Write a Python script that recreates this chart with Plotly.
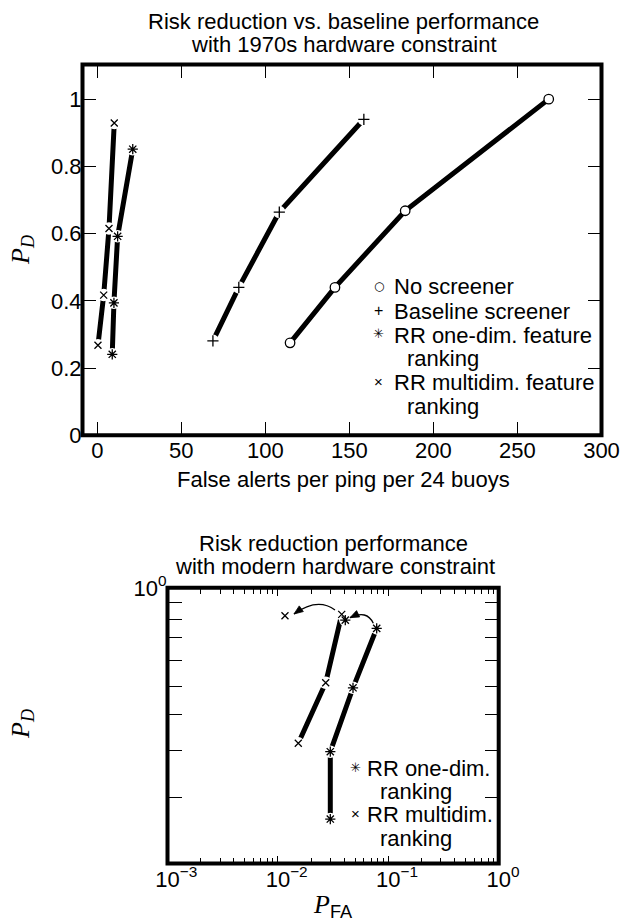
import math
import plotly.graph_objects as go

W, H = 623, 923

# ---------------- data: top chart (1970s hardware constraint) ----------------
no_screener_x = [114.7, 141.4, 183.2, 268.6]
no_screener_y = [0.275, 0.44, 0.668, 1.0]
baseline_x = [68.8, 84.2, 108.3, 158.6]
baseline_y = [0.281, 0.44, 0.664, 0.94]
rr_one_x = [8.9, 9.9, 12.1, 21.1]
rr_one_y = [0.241, 0.394, 0.592, 0.851]
rr_multi_x = [0.4, 3.8, 6.96, 10.1]
rr_multi_y = [0.268, 0.417, 0.615, 0.929]

top_xticks = [0, 50, 100, 150, 200, 250, 300]
top_yticks = [0, 0.2, 0.4, 0.6, 0.8, 1]
top_yticklabels = ["0", "0.2", "0.4", "0.6", "0.8", "1"]

# ---------------- data: bottom chart (modern hardware constraint) ------------
multi_pfa = [0.0153, 0.0271, 0.03784]
multi_pd = [0.3144, 0.4933, 0.8205]
multi_new_pfa = [0.01159]
multi_new_pd = [0.812]
one_pfa = [0.02983, 0.02983, 0.0479, 0.0785]
one_pd = [0.179, 0.2954, 0.4753, 0.7394]
one_new_pfa = [0.04078]
one_new_pd = [0.7865]

bot_xticks = [0.001, 0.01, 0.1, 1]
bot_xexps = ["−3", "−2", "−1", "0"]
bot_xminor = [k * 10.0 ** e for e in (-3, -2, -1) for k in range(2, 10)]
bot_yminor = [0.897, 0.79, 0.69, 0.582, 0.481, 0.389, 0.299, 0.21]

FONT = "Liberation Sans"
STAR = "\u2733\ufe0e"


def xf(px):
    return px / W


def yf(py):
    return 1 - py / H


fig = go.Figure()

line_traces = []
halo_traces = []
marker_traces = []

series = [
    # x, y, xaxis, yaxis, symbol, size, has_line, halo
    (no_screener_x, no_screener_y, "x", "y", "circle", 9.5, True, False),
    (baseline_x, baseline_y, "x", "y", "cross-thin-open", 8, True, True),
    (rr_one_x, rr_one_y, "x", "y", "asterisk-open", 8.5, True, True),
    (rr_multi_x, rr_multi_y, "x", "y", "x-thin-open", 7, True, True),
    (multi_pfa, multi_pd, "x2", "y2", "x-thin-open", 7, True, True),
    (multi_new_pfa, multi_new_pd, "x2", "y2", "x-thin-open", 7, False, True),
    (one_pfa, one_pd, "x2", "y2", "asterisk-open", 8.5, True, True),
    (one_new_pfa, one_new_pd, "x2", "y2", "asterisk-open", 8.5, False, True),
]

for x, y, xa, ya, sym, sz, has_line, halo in series:
    if has_line:
        line_traces.append(go.Scatter(x=x, y=y, mode="lines", xaxis=xa, yaxis=ya,
                                      line=dict(color="black", width=5),
                                      hoverinfo="skip"))
    if halo:
        halo_traces.append(go.Scatter(x=x, y=y, mode="markers", xaxis=xa, yaxis=ya,
                                      marker=dict(symbol="circle", size=12.5, color="white",
                                                  line=dict(width=0)),
                                      hoverinfo="skip"))
    if sym == "circle":
        mk = dict(symbol="circle", size=sz, color="white",
                  line=dict(color="black", width=1.3))
    else:
        mk = dict(symbol=sym, size=sz, color="black",
                  line=dict(color="black", width=1.3))
    marker_traces.append(go.Scatter(x=x, y=y, mode="markers", xaxis=xa, yaxis=ya,
                                    marker=mk, hoverinfo="skip"))

for t in line_traces + halo_traces + marker_traces:
    fig.add_trace(t)

tickfont = dict(family=FONT, size=22, color="black")
common = dict(showline=False, showgrid=False, zeroline=False, automargin=False,
              mirror="allticks", tickfont=tickfont, tickcolor="black")

# ---------------- axes ----------------
fig.update_layout(
    width=W, height=H,
    margin=dict(l=0, r=0, t=0, b=0, pad=0, autoexpand=False),
    paper_bgcolor="white", plot_bgcolor="white",
    showlegend=False,
    font=dict(family=FONT, size=22, color="black"),
    xaxis=dict(domain=[xf(82.5), xf(601.5)], range=[-8.8, 300], anchor="y",
               tickmode="array", tickvals=top_xticks,
               ticktext=[str(v) for v in top_xticks],
               ticks="inside", ticklen=13.5, tickwidth=1.3, **common),
    yaxis=dict(domain=[yf(435.3), yf(64.5)], range=[0, 1.103], anchor="x",
               tickmode="array", tickvals=top_yticks, ticktext=top_yticklabels,
               ticks="inside", ticklen=13.5, tickwidth=1.3, **common),
    xaxis2=dict(domain=[xf(167.5), xf(498.7)], type="log", range=[-3, 0], anchor="y2",
                tickmode="array", tickvals=bot_xticks,
                ticktext=['<span style="color:rgba(0,0,0,0)"><sup>%s</sup></span>10<sup>%s</sup>' % (e, e)
                          for e in bot_xexps],
                ticks="inside", ticklen=8, tickwidth=1.3,
                minor=dict(tickmode="array", tickvals=bot_xminor, ticks="inside",
                           ticklen=6, tickwidth=1.2, tickcolor="black", showgrid=False),
                **common),
    yaxis2=dict(domain=[yf(863.5), yf(587.8)], type="log", range=[-0.8908, 0], anchor="x2",
                tickmode="array", tickvals=[1], ticktext=["10<sup>0</sup>"],
                ticks="inside", ticklen=14, tickwidth=1.3,
                minor=dict(tickmode="array", tickvals=bot_yminor, ticks="inside",
                           ticklen=14, tickwidth=1.3, tickcolor="black", showgrid=False),
                **common),
)

# ---------------- frames ----------------
shapes = []
for xr, yr in (("x domain", "y domain"), ("x2 domain", "y2 domain")):
    shapes.append(dict(type="rect", xref=xr, yref=yr, x0=0, x1=1, y0=0, y1=1,
                       line=dict(color="black", width=4), layer="above"))


# curved arrows (pixel geometry -> paper)
def curved_arrow(start, ctrl, end, head_len=9, half_w=3.5):
    p = lambda pt: "%.5f,%.5f" % (xf(pt[0]), yf(pt[1]))
    path = "M%s Q%s %s" % (p(start), p(ctrl), p(end))
    dx, dy = end[0] - ctrl[0], end[1] - ctrl[1]
    n = math.hypot(dx, dy)
    ux, uy = dx / n, dy / n
    bx, by = end[0] - head_len * ux, end[1] - head_len * uy
    px_, py_ = -uy, ux
    c1 = (bx + half_w * px_, by + half_w * py_)
    c2 = (bx - half_w * px_, by - half_w * py_)
    head = "M%s L%s L%s Z" % (p(end), p(c1), p(c2))
    return [dict(type="path", xref="paper", yref="paper", path=path,
                 line=dict(color="black", width=1.3)),
            dict(type="path", xref="paper", yref="paper", path=head,
                 fillcolor="black", line=dict(color="black", width=0.8))]


shapes += curved_arrow((335, 610), (317.5, 597), (294, 614))
shapes += curved_arrow((373.3, 623.3), (366.9, 609.5), (350, 617.7))
fig.update_layout(shapes=shapes)


# ---------------- text ----------------
def ann(text, px, py, size=22, family=FONT, xanchor="center", angle=0):
    return dict(text=text, x=xf(px), y=yf(py), xref="paper", yref="paper",
                xanchor=xanchor, yanchor="middle", showarrow=False,
                font=dict(size=size, family=family, color="black"), textangle=angle)


anns = [
    ann("Risk reduction vs. baseline performance", 343, 21),
    ann("with 1970s hardware constraint", 344, 44.4),
    ann("False alerts per ping per 24 buoys", 343, 480),
    ann("<i>P</i><sub><i>D</i></sub>", 22, 250, size=26, family="Liberation Serif", angle=-90),
    ann("Risk reduction performance", 333.5, 543.3),
    ann("with modern hardware constraint", 335, 566.7),
    ann("<i>P</i><sub><span style=\"font-family:Liberation Sans\">FA</span></sub>", 333, 906,
        size=26, family="Liberation Serif"),
    ann("<i>P</i><sub><i>D</i></sub>", 22, 724, size=26, family="Liberation Serif", angle=-90),
]

# legend (top)
leg_top = [
    ("No screener", 391.5, 287, "○"),
    ("Baseline screener", 391.5, 311, "+"),
    ("RR one-dim. feature", 391.5, 335, STAR),
    ("ranking", 404.5, 358.5, None),
    ("RR multidim. feature", 391.5, 382.5, "×"),
    ("ranking", 404.5, 406, None),
]
leg_bot = [
    ("RR one-dim.", 365, 768, STAR),
    ("ranking", 377.7, 791.7, None),
    ("RR multidim.", 365, 814, "×"),
    ("ranking", 377.7, 838.3, None),
]
sym_size = {"○": 12, "+": 16, STAR: 13, "×": 15}
sym_font = {"○": "DejaVu Sans", "+": FONT, STAR: "DejaVu Sans", "×": FONT}
for rows, sx in ((leg_top, 378.5), (leg_bot, 355)):
    for text, px, py, sym in rows:
        anns.append(ann(text, px, py, xanchor="left"))
        if sym:
            anns.append(ann(sym, sx, py - 1, size=sym_size[sym], family=sym_font[sym]))

fig.update_layout(annotations=anns)

fig.write_html("out.html")
